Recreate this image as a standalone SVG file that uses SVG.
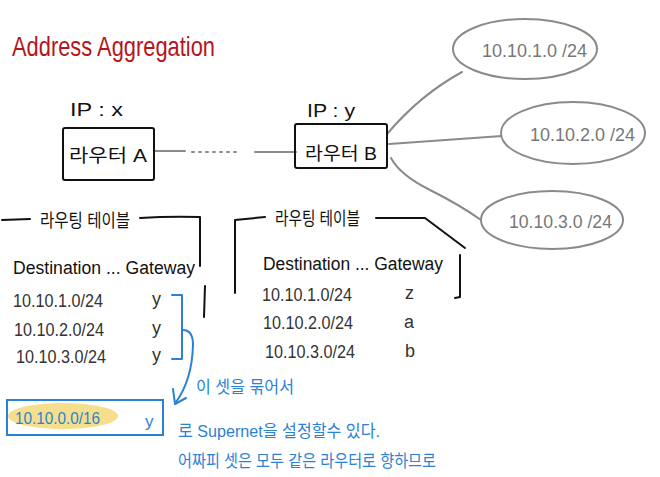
<svg xmlns="http://www.w3.org/2000/svg" width="660" height="477" viewBox="0 0 660 477">
<style>
text{font-family:"Liberation Sans","Noto Sans CJK KR",sans-serif;}
.t{fill:#111;font-size:18px;}
.r{fill:#333;font-size:18px;}
.g{fill:#777;font-size:18px;}
.b{fill:#2b82d4;font-size:17px;}
.box{fill:none;stroke:#111;stroke-width:2;stroke-linejoin:round;}
.ln{fill:none;stroke:#111;stroke-width:2;stroke-linecap:round;stroke-linejoin:round;}
.gl{fill:none;stroke:#8a8a8a;stroke-width:2;stroke-linecap:round;}
.bl{fill:none;stroke:#2b82d4;stroke-width:2;stroke-linecap:round;stroke-linejoin:round;}
.ell{fill:#fff;stroke:#8a8a8a;stroke-width:2;}
</style>
<rect width="660" height="477" fill="#fff"/>
<text x="12" y="56" fill="#b5161c" font-size="28" textLength="203" lengthAdjust="spacingAndGlyphs">Address Aggregation</text>

<g id="connectors">
  <path class="gl" d="M155,151 L185,151"/>
  <path class="gl" d="M192,152 L240,152" stroke-dasharray="2 5"/>
  <path class="gl" d="M255,152 L296,152"/>
  <path class="gl" d="M387,134 Q420,95 462,72"/>
  <path class="gl" d="M389,144 L502,136"/>
  <path class="gl" d="M391,158 Q400,175 430,190 Q460,205 481,220"/>
</g>

<g id="routerA">
  <text x="70" y="116" class="t" font-size="19" textLength="53" lengthAdjust="spacingAndGlyphs">IP : x</text>
  <rect class="box" x="63" y="128" width="91" height="52" rx="2"/>
  <text x="108" y="162" class="t" font-size="21" text-anchor="middle" textLength="78" lengthAdjust="spacingAndGlyphs">라우터 A</text>
</g>

<g id="routerB">
  <text x="307" y="117" class="t" font-size="19" textLength="48" lengthAdjust="spacingAndGlyphs">IP : y</text>
  <rect class="box" x="295" y="124" width="92" height="44" rx="2"/>
  <text x="341" y="160" class="t" font-size="21" text-anchor="middle" textLength="72" lengthAdjust="spacingAndGlyphs">라우터 B</text>
</g>

<g id="net1">
  <ellipse class="ell" cx="525" cy="49" rx="72" ry="30"/>
  <text x="482" y="57" class="g" textLength="105" lengthAdjust="spacingAndGlyphs">10.10.1.0 /24</text>
</g>
<g id="net2">
  <ellipse class="ell" cx="573" cy="133" rx="72" ry="31"/>
  <text x="530" y="141" class="g" textLength="105" lengthAdjust="spacingAndGlyphs">10.10.2.0 /24</text>
</g>
<g id="net3">
  <ellipse class="ell" cx="552" cy="220" rx="71" ry="29"/>
  <text x="509" y="228" class="g" textLength="103" lengthAdjust="spacingAndGlyphs">10.10.3.0 /24</text>
</g>

<g id="tableA">
  <path class="ln" d="M2,220 L30,219"/>
  <text x="40" y="227" class="t" font-size="20" textLength="90" lengthAdjust="spacingAndGlyphs">라우팅 테이블</text>
  <path class="ln" d="M140,218 Q170,216 200,217 L200,266"/>
  <path class="ln" d="M205,286 L204,317"/>
  <text x="13" y="274" class="t" textLength="182" lengthAdjust="spacingAndGlyphs">Destination ... Gateway</text>
  <text x="13" y="307" class="r" textLength="90" lengthAdjust="spacingAndGlyphs">10.10.1.0/24</text>
  <text x="152" y="305" class="r" font-size="20">y</text>
  <text x="14" y="336" class="r" textLength="90" lengthAdjust="spacingAndGlyphs">10.10.2.0/24</text>
  <text x="152" y="334" class="r" font-size="20">y</text>
  <text x="16" y="363" class="r" textLength="90" lengthAdjust="spacingAndGlyphs">10.10.3.0/24</text>
  <text x="152" y="361" class="r" font-size="20">y</text>
</g>

<g id="tableB">
  <path class="ln" d="M235,293 L235,220 L265,217"/>
  <text x="275" y="225" class="t" font-size="20" textLength="85" lengthAdjust="spacingAndGlyphs">라우팅 테이블</text>
  <path class="ln" d="M376,218 L425,218 L465,248"/>
  <path class="ln" d="M460,255 L460,297 L455,298"/>
  <text x="263" y="270" class="t" textLength="180" lengthAdjust="spacingAndGlyphs">Destination ... Gateway</text>
  <text x="262" y="301" class="r" textLength="90" lengthAdjust="spacingAndGlyphs">10.10.1.0/24</text>
  <text x="405" y="299" class="r">z</text>
  <text x="404" y="328" class="r">a</text>
  <text x="263" y="329" class="r" textLength="90" lengthAdjust="spacingAndGlyphs">10.10.2.0/24</text>
  <text x="265" y="358" class="r" textLength="90" lengthAdjust="spacingAndGlyphs">10.10.3.0/24</text>
  <text x="405" y="357" class="r">b</text>
</g>

<g id="bracket">
  <path class="bl" d="M172,295 L182,295 L182,359 L172,359"/>
  <path class="bl" d="M183,330 Q193,330 193,345 Q192,380 176,402"/>
  <path class="bl" d="M173,389 L175,404 L186,398"/>
</g>

<g id="supernet">
  <ellipse cx="63" cy="416" rx="55" ry="13" fill="#f6df8c"/>
  <rect x="7" y="400" width="156" height="35" fill="none" stroke="#2b82d4" stroke-width="2"/>
  <text x="15" y="424" class="b" font-size="18" textLength="85" lengthAdjust="spacingAndGlyphs">10.10.0.0/16</text>
  <text x="145" y="427" class="b" font-size="21">y</text>
</g>

<g id="note">
  <text x="196" y="393" class="b" textLength="98" lengthAdjust="spacingAndGlyphs">이 셋을 묶어서</text>
  <text x="178" y="437" class="b" textLength="202" lengthAdjust="spacingAndGlyphs">로 Supernet을 설정할수 있다.</text>
  <text x="178" y="467" class="b" textLength="258" lengthAdjust="spacingAndGlyphs">어짜피 셋은 모두 같은 라우터로 향하므로</text>
</g>
</svg>
